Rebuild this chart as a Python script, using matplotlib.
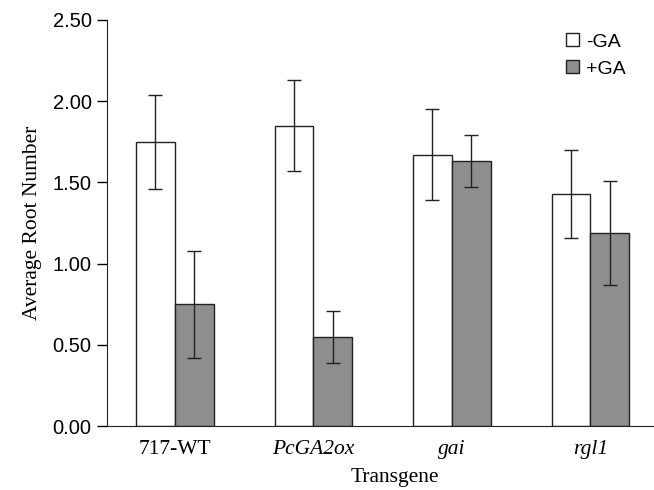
import matplotlib.pyplot as plt
import numpy as np

# data
transgenes = ['717-WT', 'PcGA2ox', 'gai', 'rgl1']
italic = [False, True, True, True]
minus_ga = [1.75, 1.85, 1.67, 1.43]
minus_ga_err = [0.29, 0.28, 0.28, 0.27]
plus_ga = [0.75, 0.55, 1.63, 1.19]
plus_ga_err = [0.33, 0.16, 0.16, 0.32]
yticks = [0.0, 0.5, 1.0, 1.5, 2.0, 2.5]

fig = plt.figure(figsize=(6.54, 4.90), dpi=100)
ax = fig.add_axes([0.1636, 0.1306, 0.8364, 0.8286])

x = np.arange(len(transgenes))
w = 0.28
err_kw = dict(ecolor='#222222', elinewidth=1, capsize=5, capthick=1)
ax.bar(x - w / 2, minus_ga, w, yerr=minus_ga_err, color='white',
       edgecolor='#222222', linewidth=1, label='-GA', error_kw=err_kw)
ax.bar(x + w / 2, plus_ga, w, yerr=plus_ga_err, color='#8e8e8e',
       edgecolor='#222222', linewidth=1, label='+GA', error_kw=err_kw)

ax.set_xlim(-0.49, 3.46)
ax.set_ylim(0, 2.5)
ax.set_yticks(yticks)
ax.set_yticklabels([f'{v:.2f}' for v in yticks], family='Liberation Sans', fontsize=14.5)
ax.tick_params(axis='y', direction='out', length=7, width=1, pad=4)

ax.set_xticks(x)
ax.set_xticklabels(transgenes, family='Liberation Serif', fontsize=15.5)
for lbl, it in zip(ax.get_xticklabels(), italic):
    if it:
        lbl.set_style('italic')
ax.tick_params(axis='x', length=0, pad=10)

ax.spines['top'].set_visible(False)
ax.spines['right'].set_visible(False)
ax.spines['left'].set_color('#222222')
ax.spines['bottom'].set_color('#222222')

ax.set_ylabel('Average Root Number', family='Liberation Serif', fontsize=15.5, labelpad=8)
ax.set_xlabel('Transgene', family='Liberation Serif', fontsize=15.5)
ax.xaxis.set_label_coords(0.527, -0.103)

ax.legend(loc='upper right', bbox_to_anchor=(0.98, 1.01), frameon=False,
          prop={'family': 'Liberation Sans', 'size': 14},
          handlelength=0.65, handleheight=0.65, handletextpad=0.35, labelspacing=0.5)

fig.savefig('out.png', dpi=100)
